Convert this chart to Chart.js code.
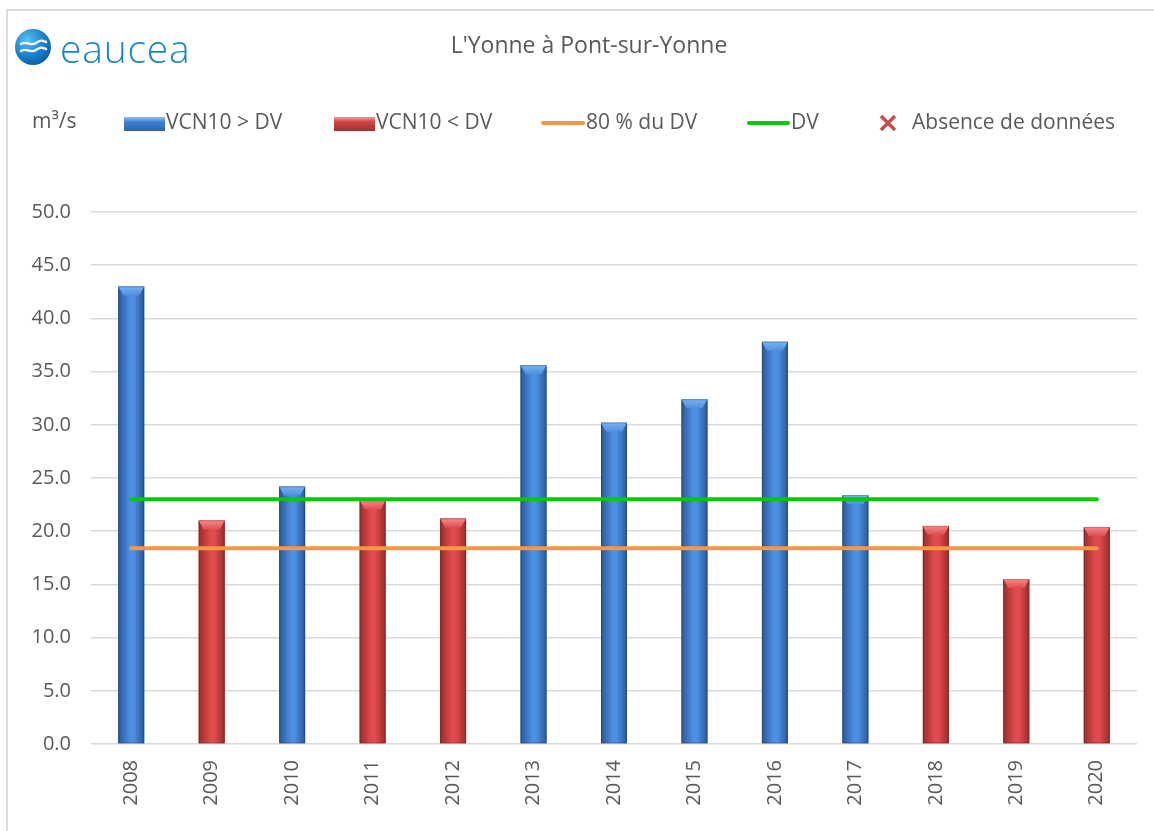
<!DOCTYPE html>
<html>
<head>
<meta charset="utf-8">
<script src="https://cdn.jsdelivr.net/npm/chart.js@4/dist/chart.umd.min.js"></script>
<style>
  html, body { margin: 0; padding: 0; background: #fff; }
  body { width: 1154px; height: 831px; position: relative; overflow: hidden; font-family: "Open Sans", sans-serif; color: #595959; }
  #frame { position: absolute; left: 6px; top: 9px; width: 1200px; height: 900px; border-left: 2px solid #dcdcdc; border-top: 2px solid #dcdcdc; }
  #chartWrap { position: absolute; left: 0; top: 0; width: 1154px; height: 831px; }
  .t { position: absolute; white-space: nowrap; font-size: 21px; line-height: 21px; }
  #title { left: 12px; width: 1154px; top: 33px; text-align: center; font-size: 23px; line-height: 23px; }
  #brand { position: absolute; left: 60px; top: 21px; font-size: 39px; font-weight: 300; color: #1d86c9; letter-spacing: 0.8px; }
  .swatch { position: absolute; height: 14px; }
  .ln { position: absolute; height: 4px; border-radius: 2px; }
</style>
</head>
<body>
<div id="frame"></div>
<div id="chartWrap"><canvas id="c" width="1154" height="831"></canvas></div>

<svg style="position:absolute;left:14px;top:28px" width="40" height="40" viewBox="0 0 40 40">
  <defs>
    <radialGradient id="lg" cx="35%" cy="30%" r="75%">
      <stop offset="0" stop-color="#5cc0f2"/>
      <stop offset="0.6" stop-color="#1b82cc"/>
      <stop offset="1" stop-color="#0b5da6"/>
    </radialGradient>
  </defs>
  <circle cx="19" cy="19" r="18" fill="url(#lg)"/>
  <path d="M7 16 C12 12, 16 19, 22 15 S 29 13, 32 14" stroke="#fff" stroke-width="2.4" fill="none" stroke-linecap="round" opacity="0.95"/>
  <path d="M7 23 C12 19, 16 26, 22 22 S 29 20, 32 21" stroke="#fff" stroke-width="2.4" fill="none" stroke-linecap="round" opacity="0.95"/>
</svg>
<div id="brand">eaucea</div>
<div class="t" id="title">L'Yonne à Pont-sur-Yonne</div>

<div class="t" style="left:32px;top:110px">m³/s</div>
<div class="swatch" style="left:124px;top:117px;width:41px;background:linear-gradient(#8fc2f2,#3f82d2 35%,#2d62a8)"></div>
<div class="t" style="left:166px;top:111px">VCN10 &gt; DV</div>
<div class="swatch" style="left:334px;top:117px;width:41px;background:linear-gradient(#f49a9a,#d24444 35%,#a03030)"></div>
<div class="t" style="left:376px;top:111px">VCN10 &lt; DV</div>
<div class="ln" style="left:541px;top:121px;width:44px;background:#f79646"></div>
<div class="t" style="left:586px;top:111px">80 % du DV</div>
<div class="ln" style="left:747px;top:121px;width:43px;background:#00cc00"></div>
<div class="t" style="left:791px;top:111px">DV</div>
<svg style="position:absolute;left:879px;top:114px" width="18" height="18" viewBox="0 0 18 18">
  <path d="M2 2 L16 16 M16 2 L2 16" stroke="#c0504d" stroke-width="3.5"/>
</svg>
<div class="t" style="left:912px;top:111px">Absence de données</div>

<script>
var years = ["2008", "2009", "2010", "2011", "2012", "2013", "2014", "2015", "2016", "2017", "2018", "2019", "2020"];
var vcn10 = [43.0, 21.0, 24.2, 22.9, 21.2, 35.6, 30.2, 32.4, 37.8, 23.4, 20.5, 15.5, 20.4];
var dvValues = [23.0, 23.0, 23.0, 23.0, 23.0, 23.0, 23.0, 23.0, 23.0, 23.0, 23.0, 23.0, 23.0];
var dv80Values = [18.4, 18.4, 18.4, 18.4, 18.4, 18.4, 18.4, 18.4, 18.4, 18.4, 18.4, 18.4, 18.4];
var yTicks = [0, 5, 10, 15, 20, 25, 30, 35, 40, 45, 50];

var above = vcn10.map(function (v, i) { return v >= dvValues[i] ? v : null; });
var below = vcn10.map(function (v, i) { return v < dvValues[i] ? v : null; });

var shades = {
  blue: { edge: "#2a5897", mid: "#4d8fe0", bevel: "#7ab4f0" },
  red: { edge: "#9a2c2c", mid: "#e04c4c", bevel: "#f58a8a" }
};

// gradient + bevel over each bar, using the positions Chart.js computed
var barShade = {
  id: "barShade",
  afterDatasetDraw: function (chart, args) {
    var meta = args.meta;
    if (meta.type !== "bar") return;
    var s = shades[chart.data.datasets[meta.index].shade];
    var ctx = chart.ctx;
    ctx.save();
    meta.data.forEach(function (bar, i) {
      if (meta._parsed[i] == null || meta._parsed[i].y == null) return;
      var p = bar.getProps(["x", "y", "base", "width"], true);
      var l = p.x - p.width / 2, r = p.x + p.width / 2;
      var g = ctx.createLinearGradient(l, 0, r, 0);
      g.addColorStop(0, s.edge);
      g.addColorStop(0.45, s.mid);
      g.addColorStop(0.6, s.mid);
      g.addColorStop(1, s.edge);
      ctx.fillStyle = g;
      ctx.fillRect(l, p.y, p.width, p.base - p.y);
      var bh = Math.min(9, (p.base - p.y) / 2);
      var bg = ctx.createLinearGradient(0, p.y, 0, p.y + bh);
      bg.addColorStop(0, s.bevel);
      bg.addColorStop(1, s.mid);
      ctx.fillStyle = bg;
      ctx.beginPath();
      ctx.moveTo(l, p.y);
      ctx.lineTo(r, p.y);
      ctx.lineTo(r - 5, p.y + bh);
      ctx.lineTo(l + 5, p.y + bh);
      ctx.closePath();
      ctx.fill();
      ctx.strokeStyle = "rgba(0,0,0,0.18)";
      ctx.lineWidth = 1;
      ctx.strokeRect(l + 0.5, p.y + 0.5, p.width - 1, p.base - p.y - 1);
    });
    ctx.restore();
  }
};

new Chart(document.getElementById("c"), {
  type: "bar",
  data: {
    labels: years,
    datasets: [
      { label: "VCN10 > DV", data: above, shade: "blue", backgroundColor: "#3f7fcf", order: 2, skipNull: true },
      { label: "VCN10 < DV", data: below, shade: "red", backgroundColor: "#d04040", order: 2, skipNull: true },
      { type: "line", label: "80 % du DV", data: dv80Values, borderColor: "#f79646", borderWidth: 4, pointRadius: 0, borderCapStyle: "round", order: 0 },
      { type: "line", label: "DV", data: dvValues, borderColor: "#00cc00", borderWidth: 4, pointRadius: 0, borderCapStyle: "round", order: 0 }
    ]
  },
  options: {
    responsive: false,
    animation: false,
    datasets: { bar: { categoryPercentage: 1, barPercentage: 0.323, skipNull: true } },
    layout: { padding: { left: 0, top: 212, right: 17, bottom: 0 } },
    plugins: { legend: { display: false }, tooltip: { enabled: false } },
    scales: {
      x: {
        grid: { display: false },
        border: { display: false },
        ticks: {
          color: "#595959", font: { family: "Open Sans", size: 20 },
          minRotation: 90, maxRotation: 90, padding: 8
        },
        afterFit: function (s) { s.height = 87; }
      },
      y: {
        min: 0, max: 50,
        afterBuildTicks: function (s) { s.ticks = yTicks.map(function (v) { return { value: v }; }); },
        grid: { color: "#d9d9d9", lineWidth: 1.5, drawTicks: false },
        border: { display: false },
        ticks: {
          color: "#595959", font: { family: "Open Sans", size: 20 }, padding: 20,
          callback: function (v) { return Number(v).toFixed(1); }
        },
        afterFit: function (s) { s.width = 91; }
      }
    }
  },
  plugins: [barShade]
});
</script>
</body>
</html>
